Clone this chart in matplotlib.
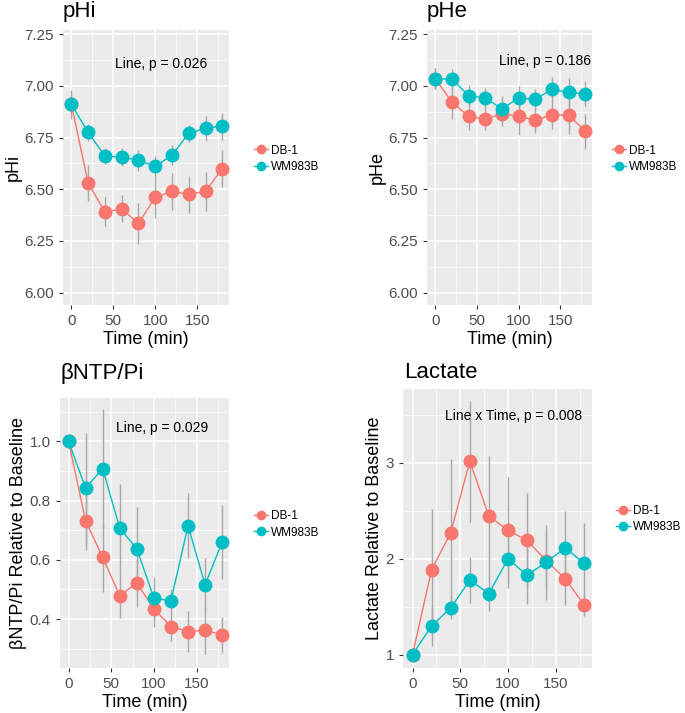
import numpy as np
import matplotlib
matplotlib.use('Agg')
import matplotlib.pyplot as plt
from matplotlib.ticker import MultipleLocator

plt.rcParams['font.family'] = ['Liberation Sans', 'DejaVu Sans']

# Data
time = [0, 20, 40, 60, 80, 100, 120, 140, 160, 180]
series = ['DB-1', 'WM983B']
colors = ['#F8766D', '#00BFC4']

phi_db = [6.91, 6.53, 6.39, 6.405, 6.335, 6.46, 6.49, 6.475, 6.49, 6.60]
phi_db_err = [0.04, 0.085, 0.07, 0.065, 0.10, 0.10, 0.09, 0.09, 0.095, 0.09]
phi_wm = [6.91, 6.775, 6.66, 6.655, 6.64, 6.61, 6.665, 6.77, 6.795, 6.805]
phi_wm_err = [0.07, 0.04, 0.04, 0.045, 0.05, 0.05, 0.05, 0.04, 0.06, 0.065]

phe_db = [7.035, 6.92, 6.853, 6.838, 6.865, 6.853, 6.833, 6.86, 6.858, 6.78]
phe_db_err = [0.05, 0.08, 0.065, 0.05, 0.06, 0.09, 0.06, 0.07, 0.09, 0.085]
phe_wm = [7.035, 7.032, 6.953, 6.94, 6.89, 6.94, 6.935, 6.983, 6.968, 6.962]
phe_wm_err = [0.05, 0.05, 0.05, 0.05, 0.06, 0.06, 0.05, 0.06, 0.07, 0.06]

ntp_db = [1.0, 0.732, 0.608, 0.479, 0.522, 0.434, 0.375, 0.358, 0.362, 0.347]
ntp_db_err = [0.0, 0.10, 0.115, 0.076, 0.08, 0.06, 0.05, 0.07, 0.08, 0.06]
ntp_wm = [1.0, 0.842, 0.908, 0.707, 0.637, 0.471, 0.462, 0.715, 0.516, 0.66]
ntp_wm_err = [0.0, 0.186, 0.20, 0.15, 0.14, 0.07, 0.04, 0.11, 0.09, 0.125]

lac_db = [1.0, 1.887, 2.27, 3.017, 2.443, 2.297, 2.19, 1.98, 1.79, 1.515]
lac_db_err = [0.0, 0.63, 0.77, 0.63, 0.63, 0.55, 0.5, 0.3, 0.27, 0.11]
lac_wm = [1.0, 1.30, 1.487, 1.776, 1.637, 1.998, 1.827, 1.963, 2.113, 1.95]
lac_wm_err = [0.0, 0.21, 0.12, 0.24, 0.18, 0.3, 0.3, 0.39, 0.38, 0.42]

W, H = 685, 713
fig = plt.figure(figsize=(W / 100, H / 100), dpi=100)


def make_axes(x0, y0, x1, y1):
    # pixel box (top-left origin) -> figure fraction
    return fig.add_axes([x0 / W, 1 - y1 / H, (x1 - x0) / W, (y1 - y0) / H])


def panel(ax, vals, errs, title, title_xy, ylabel, ylim, ymajor, note, note_xy,
          leg_x=1.12):
    ax.set_facecolor('#EBEBEB')
    for s in ax.spines.values():
        s.set_visible(False)
    ax.xaxis.set_major_locator(MultipleLocator(50))
    ax.xaxis.set_minor_locator(MultipleLocator(25))
    ax.yaxis.set_major_locator(MultipleLocator(ymajor))
    ax.yaxis.set_minor_locator(MultipleLocator(ymajor / 2))
    ax.grid(which='major', color='white', lw=1.1)
    ax.grid(which='minor', color='white', lw=0.5)
    ax.set_axisbelow(True)
    ax.tick_params(which='major', colors='#333333', labelcolor='#4D4D4D',
                   labelsize=11, length=3, width=0.8)
    ax.tick_params(which='minor', length=0)
    t = np.array(time)
    for v, e in zip(vals, errs):
        v = np.array(v)
        e = np.array(e)
        ax.vlines(t, v - e, v + e, color='#A8A8A8', lw=1.0, zorder=2)
    for v, c, name in zip(vals, colors, series):
        ax.plot(t, v, color=c, lw=1.0, marker='o', ms=9, mec=c,
                label=name, zorder=3)
    ax.set_xlim(-10, 188)
    ax.set_ylim(*ylim)
    ax.set_xlabel('Time (min)', fontsize=13, labelpad=2)
    ax.set_ylabel(ylabel, fontsize=13, labelpad=2)
    fig.text(title_xy[0] / W, 1 - title_xy[1] / H, title, fontsize=16,
             ha='left', va='center')
    ax.text(note_xy[0], note_xy[1], note, fontsize=10, ha='center', va='center')
    leg = ax.legend(loc='center left', bbox_to_anchor=(leg_x, 0.565),
                    frameon=False, fontsize=8.5, handlelength=1.2,
                    handletextpad=0.25, labelspacing=0.35, title=' ',
                    borderaxespad=0)
    for h in leg.legend_handles:
        h.set_markersize(6)


ax1 = make_axes(63, 30, 229, 305)
panel(ax1, [phi_db, phi_wm], [phi_db_err, phi_wm_err], 'pHi', (63, 12), 'pHi',
      (5.94, 7.27), 0.25, 'Line, p = 0.026', (107, 7.106))

ax2 = make_axes(427, 30, 592, 305)
panel(ax2, [phe_db, phe_wm], [phe_db_err, phe_wm_err], 'pHe', (427, 12), 'pHe',
      (5.94, 7.27), 0.25, 'Line, p = 0.186', (132, 7.12), leg_x=1.09)

ax3 = make_axes(60, 398, 229, 668)
panel(ax3, [ntp_db, ntp_wm], [ntp_db_err, ntp_wm_err], '\u03b2NTP/Pi', (60, 373),
      '\u03b2NTP/Pi Relative to Baseline', (0.235, 1.146), 0.2,
      'Line, p = 0.029', (109, 1.045))

ax4 = make_axes(403, 389, 592, 668)
panel(ax4, [lac_db, lac_wm], [lac_db_err, lac_wm_err], 'Lactate', (404, 373),
      'Lactate Relative to Baseline', (0.86, 3.77), 1.0,
      'Line x Time, p = 0.008', (106, 3.49), leg_x=1.1)

plt.savefig('out.png', dpi=100)
